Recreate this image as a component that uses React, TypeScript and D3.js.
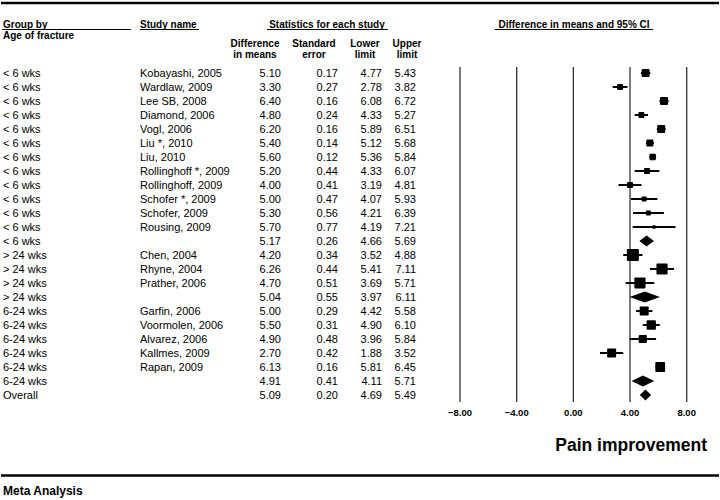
import React from "react";
import * as d3 from "d3";

const groups = [
  "< 6 wks", "< 6 wks", "< 6 wks", "< 6 wks", "< 6 wks", "< 6 wks", "< 6 wks",
  "< 6 wks", "< 6 wks", "< 6 wks", "< 6 wks", "< 6 wks", "< 6 wks",
  "> 24 wks", "> 24 wks", "> 24 wks", "> 24 wks",
  "6-24 wks", "6-24 wks", "6-24 wks", "6-24 wks", "6-24 wks", "6-24 wks",
  "Overall",
];
const studies = [
  "Kobayashi, 2005", "Wardlaw, 2009", "Lee SB, 2008", "Diamond, 2006", "Vogl, 2006",
  "Liu *, 2010", "Liu, 2010", "Rollinghoff *, 2009", "Rollinghoff, 2009",
  "Schofer *, 2009", "Schofer, 2009", "Rousing, 2009", "",
  "Chen, 2004", "Rhyne, 2004", "Prather, 2006", "",
  "Garfin, 2006", "Voormolen, 2006", "Alvarez, 2006", "Kallmes, 2009", "Rapan, 2009", "",
  "",
];
const diffs = [5.10, 3.30, 6.40, 4.80, 6.20, 5.40, 5.60, 5.20, 4.00, 5.00, 5.30, 5.70, 5.17,
  4.20, 6.26, 4.70, 5.04, 5.00, 5.50, 4.90, 2.70, 6.13, 4.91, 5.09];
const stdErrs = [0.17, 0.27, 0.16, 0.24, 0.16, 0.14, 0.12, 0.44, 0.41, 0.47, 0.56, 0.77, 0.26,
  0.34, 0.44, 0.51, 0.55, 0.29, 0.31, 0.48, 0.42, 0.16, 0.41, 0.20];
const lowers = [4.77, 2.78, 6.08, 4.33, 5.89, 5.12, 5.36, 4.33, 3.19, 4.07, 4.21, 4.19, 4.66,
  3.52, 5.41, 3.69, 3.97, 4.42, 4.90, 3.96, 1.88, 5.81, 4.11, 4.69];
const uppers = [5.43, 3.82, 6.72, 5.27, 6.51, 5.68, 5.84, 6.07, 4.81, 5.93, 6.39, 7.21, 5.69,
  4.88, 7.11, 5.71, 6.11, 5.58, 6.10, 5.84, 3.52, 6.45, 5.71, 5.49];
// relative weight within subgroup (%) for each study (summary rows: 0)
const weights = [13.3, 7.5, 13.3, 7.5, 13.3, 10.2, 8.5, 7.5, 7.5, 5.2, 5.2, 2.6, 0,
  30, 26, 26, 0, 17, 18, 14, 17, 20, 0, 0];
const ticks = [-8, -4, 0, 4, 8];

const FONT = "'Liberation Sans', Arial, Helvetica, sans-serif";

export default function App() {
  const W = 720, H = 500;
  const x = d3.scaleLinear().domain([-8, 8]).range([460, 686.7]);
  const rowBase = (i: number) => 77 + i * 14;
  const boxSize = d3.scaleSqrt().domain([0, 30]).range([0, 12]);
  const fmt = d3.format(".2f");
  const colRight = [281, 338, 382, 416];
  const colCenter = [255, 314, 365, 407];
  const colHead = [["Difference", "in means"], ["Standard", "error"], ["Lower", "limit"], ["Upper", "limit"]];

  const rows = groups.map((g, i) => ({
    g, s: studies[i], d: diffs[i], se: stdErrs[i], lo: lowers[i], hi: uppers[i], w: weights[i],
    summary: studies[i] === "",
  }));

  return (
    <svg width={W} height={H} style={{ position: "absolute", left: 0, top: 0, background: "#fff" }}
      fontFamily={FONT}>
      <rect width={W} height={H} fill="#fff" />
      <line x1={1} x2={719} y1={3} y2={3} stroke="#000" strokeWidth={2.5} />
      <line x1={1} x2={719} y1={475.5} y2={475.5} stroke="#000" strokeWidth={2.3} />

      {/* headers */}
      <g fontWeight="bold" fontSize={10} fill="#000">
        <text x={3} y={27.5}>Group by</text>
        <line x1={2} x2={131} y1={29.5} y2={29.5} stroke="#000" strokeWidth={1} />
        <text x={3} y={39}>Age of fracture</text>
        <text x={140} y={27.5}>Study name</text>
        <line x1={140} x2={199} y1={29.5} y2={29.5} stroke="#000" strokeWidth={1} />
        <text x={327} y={27.5} textAnchor="middle">Statistics for each study</text>
        <line x1={267} x2={388} y1={29.5} y2={29.5} stroke="#000" strokeWidth={1} />
        <text x={574} y={27.5} textAnchor="middle">Difference in means and 95% CI</text>
        <line x1={495} x2={653} y1={29.5} y2={29.5} stroke="#000" strokeWidth={1} />
        {colHead.map((h, k) => (
          <g key={k}>
            <text x={colCenter[k]} y={46.5} textAnchor="middle">{h[0]}</text>
            <text x={colCenter[k]} y={58.3} textAnchor="middle">{h[1]}</text>
          </g>
        ))}
      </g>

      {/* table rows */}
      <g fontSize={11} fill="#000">
        {rows.map((r, i) => {
          const y = rowBase(i);
          return (
            <g key={i}>
              <text x={3} y={y}>{r.g}</text>
              <text x={140} y={y}>{r.s}</text>
              {[r.d, r.se, r.lo, r.hi].map((v, k) => (
                <text key={k} x={colRight[k]} y={y} textAnchor="end">{fmt(v)}</text>
              ))}
            </g>
          );
        })}
      </g>

      {/* forest plot grid */}
      <g>
        {ticks.map((t) => (
          <g key={t}>
            <line x1={x(t)} x2={x(t)} y1={67} y2={402} stroke="#333" strokeWidth={1.3} />
            <text x={x(t)} y={416} textAnchor="middle" fontSize={9.5} fontWeight="bold">{fmt(t)}</text>
          </g>
        ))}
      </g>

      {/* markers */}
      <g fill="#000">
        {rows.map((r, i) => {
          const cy = rowBase(i) - 4;
          if (r.summary) {
            const h = 5.5;
            const pts = [[x(r.lo), cy], [x(r.d), cy - h], [x(r.hi), cy], [x(r.d), cy + h]];
            return <polygon key={i} points={pts.map((p) => p.join(",")).join(" ")} />;
          }
          const s = boxSize(r.w);
          return (
            <g key={i}>
              <line x1={x(r.lo)} x2={x(r.hi)} y1={cy} y2={cy} stroke="#000" strokeWidth={2} />
              <rect x={x(r.d) - s / 2} y={cy - s / 2} width={s} height={s} rx={1} />
            </g>
          );
        })}
      </g>

      <text x={707} y={451} textAnchor="end" fontSize={17.5} fontWeight="bold">Pain improvement</text>
      <text x={3} y={495} fontSize={12} fontWeight="bold">Meta Analysis</text>
    </svg>
  );
}
